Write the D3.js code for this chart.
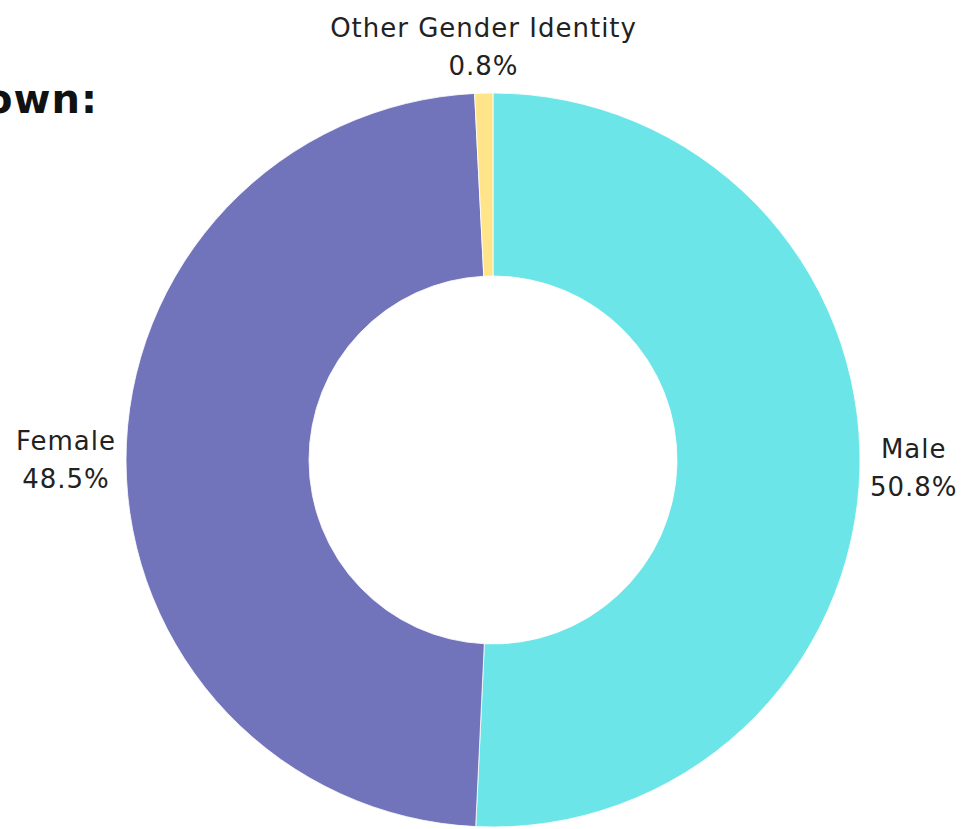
<!DOCTYPE html>
<html>
<head>
<meta charset="utf-8">
<script src="https://cdn.jsdelivr.net/npm/d3@7"></script>
<style>
  body { margin: 0; background: #fff; }
  svg { display: block; }
</style>
</head>
<body>
<div id="chart"></div>
<script>
// data
var categories = ["Male", "Female", "Other Gender Identity"];
var shares = [50.8, 48.5, 0.8];
var colours = ["#6ce5e8", "#7174bb", "#ffe48a"];
var titleText = "Gender Breakdown:";

var width = 965, height = 829;
var cx = 493, cy = 460;
var outerR = 367, innerR = 184, labelR = 377;
var lineH = 38;

var svg = d3.select("#chart")
  .append("svg")
    .attr("width", width)
    .attr("height", height);

// title, cut off at the left edge like the original
svg.append("text")
  .attr("x", 98)
  .attr("y", 113)
  .attr("text-anchor", "end")
  .style("font-family", "'DejaVu Sans', sans-serif")
  .style("font-weight", "bold")
  .style("font-size", "40px")
  .style("letter-spacing", "1px")
  .style("fill", "#111")
  .text(titleText);

var rows = categories.map(function (c, i) {
  return { name: c, value: shares[i], colour: colours[i] };
});

var pie = d3.pie()
  .sort(null)
  .value(function (d) { return d.value; });

var arc = d3.arc().innerRadius(innerR).outerRadius(outerR);
var labelArc = d3.arc().innerRadius(labelR).outerRadius(labelR);

var g = svg.append("g").attr("transform", "translate(" + cx + "," + cy + ")");

g.selectAll("path.slice")
  .data(pie(rows))
  .enter()
  .append("path")
    .attr("class", "slice")
    .attr("d", arc)
    .attr("fill", function (d) { return d.data.colour; })
    .attr("stroke", "#fff")
    .attr("stroke-width", 0.8);

// labels sit just outside the ring, pushed outward from their slice
function midAngle(d) { return (d.startAngle + d.endAngle) / 2; }

var labels = g.selectAll("text.lbl")
  .data(pie(rows))
  .enter()
  .append("text")
    .attr("class", "lbl")
    .attr("text-anchor", "middle")
    .style("font-family", "'DejaVu Sans', sans-serif")
    .style("font-size", "26px")
    .style("letter-spacing", "1px")
    .style("fill", "#222");

labels.append("tspan")
  .attr("x", 0)
  .attr("y", 0)
  .text(function (d) { return d.data.name; });

labels.append("tspan")
  .attr("x", 0)
  .attr("y", lineH)
  .text(function (d) { return d.data.value.toFixed(1) + "%"; });

// place each centred block so its inner edge touches the label point
labels.attr("transform", function (d) {
  var p = labelArc.centroid(d);
  var a = midAngle(d);
  var s = Math.sin(a), c = Math.cos(a);
  var w = 0;
  d3.select(this).selectAll("tspan").each(function () {
    w = Math.max(w, this.getComputedTextLength());
  });
  var x = p[0], y;
  if (s > 0.3) x += w / 2;
  else if (s < -0.3) x -= w / 2;
  if (c > 0.7) y = p[1] - lineH - 8;
  else y = p[1] - lineH / 2 + 8;
  return "translate(" + x + "," + y + ")";
});
</script>
</body>
</html>
